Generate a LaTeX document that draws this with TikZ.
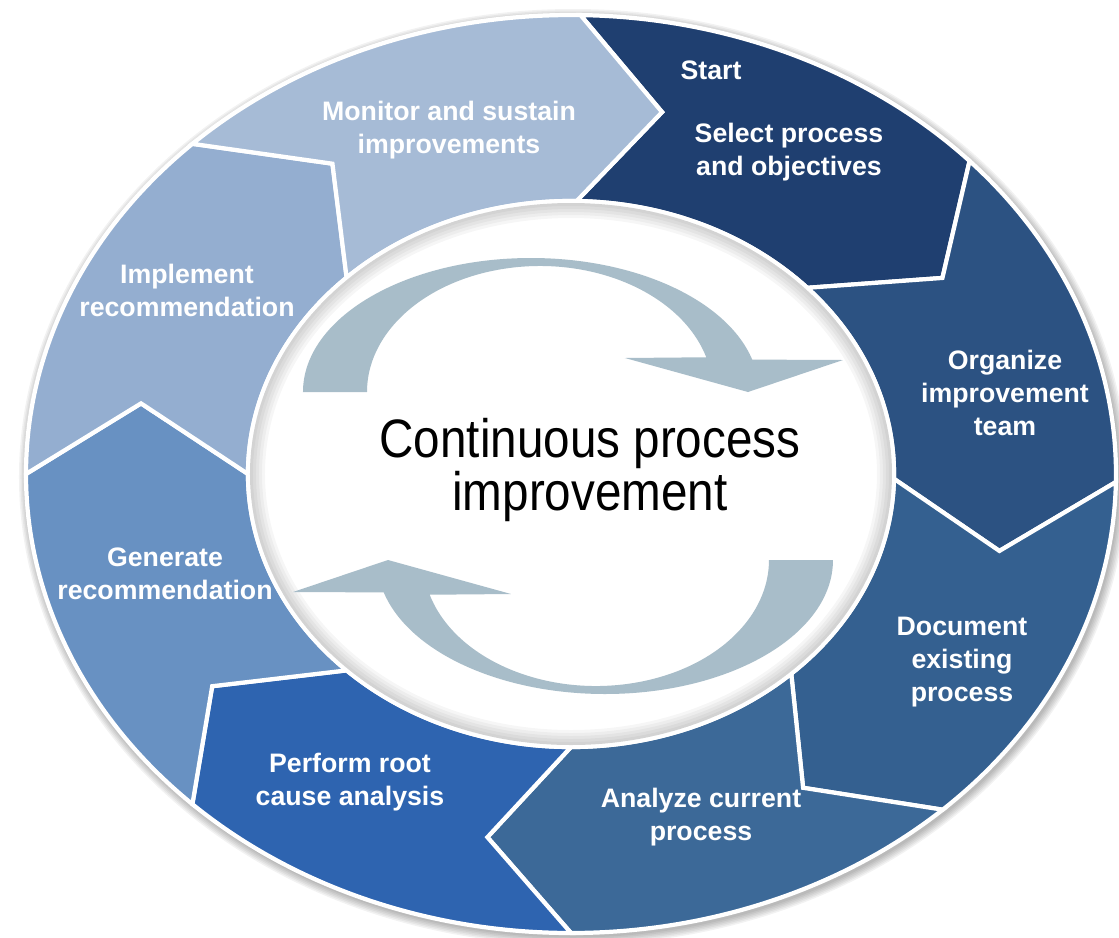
\documentclass[tikz,border=0pt]{standalone}
\usepackage{fontspec}
\setsansfont{Liberation Sans}
\newfontfamily\centrefont[FakeStretch=0.88]{Liberation Sans}

\definecolor{selectblue}{HTML}{1F3F70}
\definecolor{organizeblue}{HTML}{2C5282}
\definecolor{documentblue}{HTML}{346090}
\definecolor{analyzeblue}{HTML}{3C6998}
\definecolor{performblue}{HTML}{2E64B0}
\definecolor{generateblue}{HTML}{6891C2}
\definecolor{implementblue}{HTML}{94AED0}
\definecolor{monitorblue}{HTML}{A6BBD6}
\definecolor{arrowgrey}{HTML}{A8BDC9}

\begin{document}
\begin{tikzpicture}[line join=miter,
    seg/.style={draw=white, line width=1.2pt},
    lbl/.style={text=white, font=\sffamily\bfseries\fontsize{7.6}{9.4}\selectfont, align=center, inner sep=0pt}]
    \useasboundingbox (-5.71,-4.63) rectangle (5.48,4.74);
    % soft shadow round the ring
    \foreach \i in {1,...,6}
        \fill[black, opacity=0.05] (0.02,-0.03) ellipse [x radius={5.45+0.015*\i}, y radius={4.59+0.015*\i}];
    % eight chevrons, clockwise from the top
    \foreach \ta/\tb/\col in {89/43/selectblue, 43/-1/organizeblue, -1/-47/documentblue, -47/-90/analyzeblue,
                              -90/-134/performblue, -134/-180/generateblue, -180/-226/implementblue, -226/-271/monitorblue}
        \draw[seg, fill=\col] (\ta:5.45 and 4.59) arc [start angle=\ta, end angle=\tb, x radius=5.45, y radius=4.59]
            -- (\tb-11:4.38 and 3.70) -- (\tb:3.23 and 2.73)
            arc [start angle=\tb, end angle=\ta, x radius=3.23, y radius=2.73]
            -- (\ta-11:4.38 and 3.70) -- cycle;
    % white centre with a faint inner shade
    \draw[white, line width=1.2pt, fill=white] (0,0) ellipse [x radius=3.23, y radius=2.73];
    \foreach \i in {1,...,5}
        \fill[black, opacity=0.035, even odd rule] (0,0) ellipse [x radius=3.21, y radius=2.71]
            ellipse [x radius={3.21-0.03*\i}, y radius={2.71-0.03*\i}];
    % the two turning arrows
    \foreach \r in {0,180}
        \fill[arrowgrey, rotate around={\r:(-0.03,-0.02)}] (-2.68,0.82)
            arc [start angle=180, end angle=14, x radius=2.28, y radius=1.34]
            -- (2.72,1.14) -- (1.77,0.82) -- (0.54,1.16)
            -- ([shift={(-0.31,0.82)}]16:1.73 and 1.26)
            arc [start angle=16, end angle=180, x radius=1.73, y radius=1.26] -- cycle;

    \node[font=\centrefont\fontsize{15.4}{13}\selectfont, align=center] (title) at (0.19,0.04) {Continuous process\\improvement};

    \node[lbl] (monitor) at (-1.22,3.44) {Monitor and sustain\\improvements};
    \node[lbl] (start) at (1.40,4.04) {Start};
    \node[lbl] (select) at (2.18,3.22) {Select process\\and objectives};
    \node[lbl] (organize) at (4.34,0.81) {Organize\\improvement\\team};
    \node[lbl] (document) at (3.91,-1.88) {Document\\existing\\process};
    \node[lbl] (analyze) at (1.30,-3.43) {Analyze current\\process};
    \node[lbl] (perform) at (-2.21,-3.08) {Perform root\\cause analysis};
    \node[lbl] (generate) at (-4.06,-1.00) {Generate\\recommendation};
    \node[lbl] (implement) at (-3.84,1.84) {Implement\\recommendation};
\end{tikzpicture}
\end{document}
